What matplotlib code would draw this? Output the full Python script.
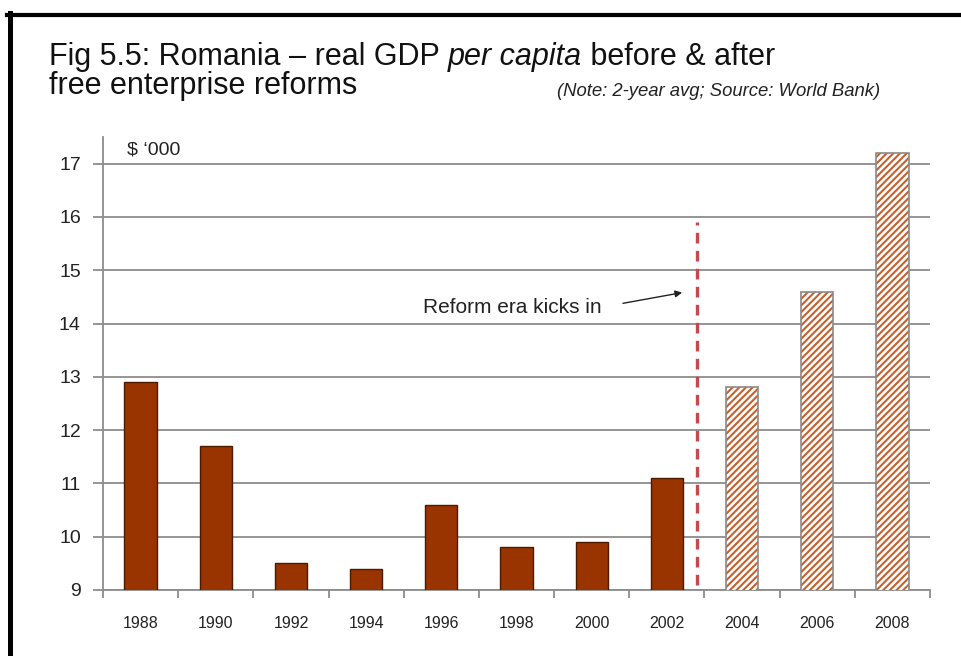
import matplotlib.pyplot as plt
import numpy as np
from matplotlib.lines import Line2D

plt.rcParams['font.family'] = ['Liberation Sans', 'DejaVu Sans']
plt.rcParams['hatch.linewidth'] = 1.5

# GDP per capita, $ '000, two-year averages
years = ['1988', '1990', '1992', '1994', '1996', '1998', '2000', '2002', '2004', '2006', '2008']
gdp = [12.9, 11.7, 9.5, 9.4, 10.6, 9.8, 9.9, 11.1, 12.8, 14.6, 17.2]
reform_start = 8          # first period after the reforms (2004)
reform_x = 7.4            # dashed marker between 2002 and 2004
y_ticks = [9, 10, 11, 12, 13, 14, 15, 16, 17]

fig = plt.figure(figsize=(9.61, 6.56), dpi=100)
ax = fig.add_axes([103 / 961, 66 / 656, 827 / 961, 453 / 656])

x = np.arange(len(years))
vals = np.array(gdp)
pre = x < reform_start
ax.bar(x[pre], vals[pre], width=0.43, color='#993300',
       edgecolor='#4d1a00', linewidth=1, zorder=3)
# hatched bars: stripes take the edge colour, so outline them separately
ax.bar(x[~pre], vals[~pre], width=0.43, color='white',
       edgecolor='#C8602E', linewidth=0, hatch='/////', zorder=3)
ax.bar(x[~pre], vals[~pre], width=0.43, fill=False,
       edgecolor='#8a8a8a', linewidth=1.2, zorder=4)

ax.set_xlim(-0.5, len(years) - 0.5)
ax.set_ylim(9, 17.5)
ax.set_yticks(y_ticks)
ax.set_xticks(x)
ax.set_xticklabels(years)
ax.set_xticks(np.arange(-0.5, len(years)), minor=True)

grey = '#8c8c8c'
ax.grid(axis='y', color=grey, linewidth=1.3, zorder=1)
for side in ['top', 'right']:
    ax.spines[side].set_visible(False)
for side in ['left', 'bottom']:
    ax.spines[side].set_color(grey)
    ax.spines[side].set_linewidth(1.3)
ax.tick_params(axis='y', direction='out', length=7, width=1.3, color=grey,
               labelsize=14, labelcolor='#222222', pad=9)
ax.tick_params(axis='x', which='major', length=0, labelsize=11.5,
               labelcolor='#222222', pad=19)
ax.tick_params(axis='x', which='minor', direction='out', length=6, width=1.3, color=grey)

# reform marker and annotation
ax.plot([reform_x, reform_x], [9.1, 15.9], color='#C44A52', linewidth=2.4,
        dashes=(3.2, 2.2), zorder=4)
ax.annotate('', xy=(7.24, 14.59), xytext=(6.38, 14.37),
            arrowprops=dict(arrowstyle='-|>', color='#222222', lw=1, mutation_scale=10))
ax.text(3.76, 14.31, 'Reform era kicks in', fontsize=15, color='#222222',
        ha='left', va='center')
ax.text(0.029, 0.971, "$ \u2018000", transform=ax.transAxes, fontsize=14,
        color='#222222', ha='left', va='center')

# title block, first line built from pieces so "per capita" can be italic
title_size = 22
y1 = 1 - 65 / 656
parts = [('Fig 5.5: Romania \u2013 real GDP ', 'normal'),
         ('per capita', 'italic'),
         (' before & after', 'normal')]
renderer = fig.canvas.get_renderer()
x_pos = 49 / 961
for txt, st in parts:
    t = fig.text(x_pos, y1, txt, fontsize=title_size, style=st, color='#111111',
                 va='baseline')
    bb = t.get_window_extent(renderer=renderer)
    x_pos += bb.width / fig.bbox.width
fig.text(49 / 961, 1 - 94 / 656, 'free enterprise reforms', fontsize=title_size,
         color='#111111', va='baseline')
fig.text(557 / 961, 1 - 96 / 656, '(Note: 2-year avg; Source: World Bank)',
         fontsize=13.3, style='italic', color='#222222', va='baseline')

# outer frame
fig.add_artist(Line2D([7 / 961, 1], [1 - 14.5 / 656] * 2, transform=fig.transFigure,
                      color='black', linewidth=3))
fig.add_artist(Line2D([9.5 / 961] * 2, [0, 1 - 13 / 656], transform=fig.transFigure,
                      color='black', linewidth=3.6))

fig.savefig('out.png', dpi=100)
